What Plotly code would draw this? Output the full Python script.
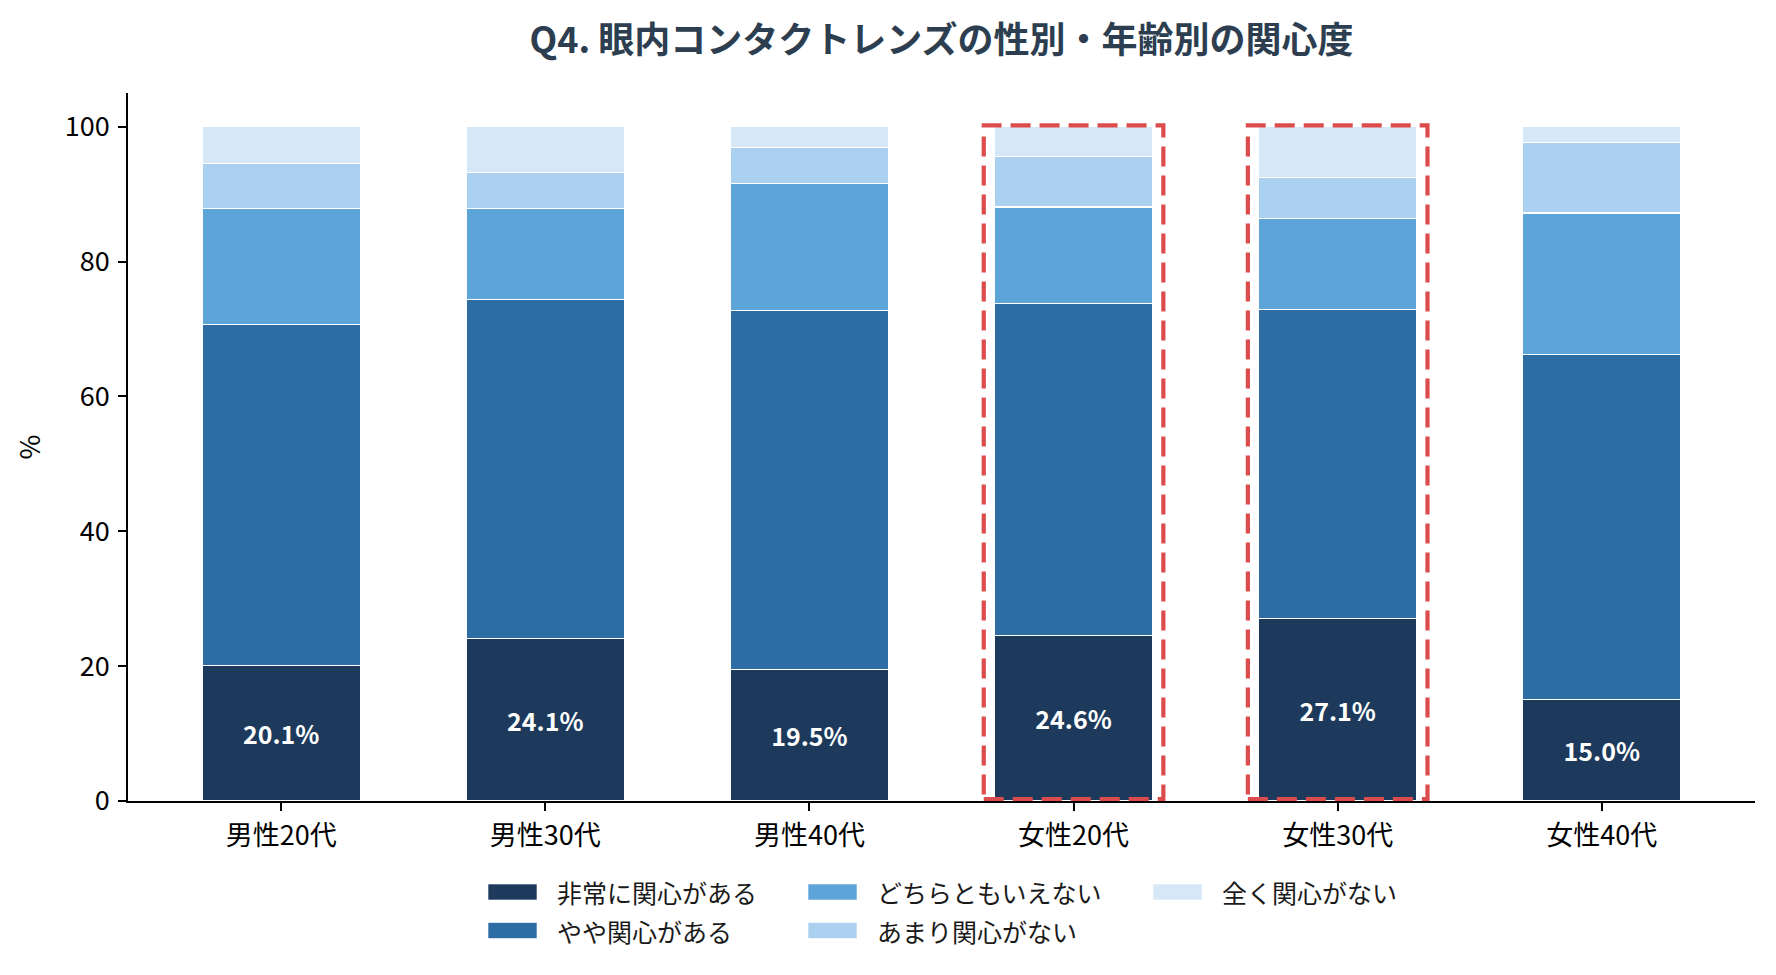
import plotly.graph_objects as go

categories = ["男性20代", "男性30代", "男性40代", "女性20代", "女性30代", "女性40代"]
series_names = ["非常に関心がある", "やや関心がある", "どちらともいえない", "あまり関心がない", "全く関心がない"]
very_interested = [20.1, 24.1, 19.5, 24.6, 27.1, 15.0]
somewhat_interested = [50.6, 50.3, 53.3, 49.2, 45.8, 51.2]
neutral = [17.2, 13.5, 18.8, 14.3, 13.5, 21.0]
not_very_interested = [6.6, 5.3, 5.3, 7.5, 6.1, 10.5]
not_at_all = [5.5, 6.8, 3.1, 4.4, 7.5, 2.3]
highlighted = ["女性20代", "女性30代"]
y_ticks = [0, 20, 40, 60, 80, 100]

colors = ["#1d3a5c", "#2e6da4", "#5da4d8", "#abd0f0", "#d6e8f7"]
FONT = "Noto Sans CJK JP"

W, H = 1776, 975
ML, MR, MT, MB = 120, 29, 85, 182
PW, PH = W - ML - MR, H - MT - MB


def px_x(px):
    return (px - ML) / PW


def px_y(py):
    return (H - MB - py) / PH


fig = go.Figure()
all_values = [very_interested, somewhat_interested, neutral, not_very_interested, not_at_all]
for i, (name, vals) in enumerate(zip(series_names, all_values)):
    kw = {}
    if i == 0:
        kw = dict(
            text=[f"{v:.1f}%" for v in vals],
            textposition="inside",
            insidetextanchor="middle",
            textangle=0,
            textfont=dict(family=FONT, size=25, color="white", weight="bold"),
        )
    fig.add_trace(go.Bar(
        x=categories, y=vals, name=name,
        marker=dict(color=colors[i], line=dict(color="white", width=1.2)),
        showlegend=False, hoverinfo="skip",
        **kw,
    ))

for cat in highlighted:
    idx = categories.index(cat)
    fig.add_shape(type="rect", xref="x", yref="y",
                  x0=idx - 0.34, x1=idx + 0.34, y0=0.3, y1=100.2,
                  line=dict(color="#dc4c4c", width=4.2, dash="20px,9px"),
                  fillcolor="rgba(0,0,0,0)", layer="above")

# legend drawn as swatches + labels (3 columns, column-major order)
col_x = [480, 800, 1145]
row_y = [884, 922.5]
sw_w, sw_h = 49, 16
for i, name in enumerate(series_names):
    c, r = divmod(i, 2)
    x0 = col_x[c]
    yc = row_y[r]
    fig.add_shape(type="rect", xref="paper", yref="paper",
                  x0=px_x(x0), x1=px_x(x0 + sw_w),
                  y0=px_y(yc + sw_h / 2), y1=px_y(yc - sw_h / 2),
                  fillcolor=colors[i], line=dict(color="rgba(255,255,255,0.6)", width=1))
    fig.add_annotation(xref="paper", yref="paper", x=px_x(x0 + 66.5), y=px_y(yc),
                       xanchor="left", yanchor="middle", text=name, showarrow=False,
                       font=dict(family=FONT, size=25, color="#1a1a1a"))

fig.update_layout(
    width=W, height=H,
    paper_bgcolor="white", plot_bgcolor="white",
    barmode="stack", bargap=0.4,
    margin=dict(l=ML, r=MR, t=MT, b=MB),
    font=dict(family=FONT, size=25, color="#000000"),
    showlegend=False,
    title=dict(text="Q4. 眼内コンタクトレンズの性別・年齢別の関心度",
               x=0.5, xref="paper", xanchor="center",
               y=1 - 32 / H, yref="container", yanchor="middle",
               font=dict(family=FONT, size=36, color="#2c3e50", weight="bold")),
    xaxis=dict(range=[-0.58, 5.58], showline=True, linecolor="black", linewidth=1.8,
               ticks="outside", ticklen=8, tickwidth=1.8, tickcolor="black",
               ticklabelstandoff=2,
               tickfont=dict(family=FONT, size=27, color="black"),
               showgrid=False, zeroline=False),
    yaxis=dict(range=[0, 105], tickvals=y_ticks, showline=True, linecolor="black",
               linewidth=1.8, ticks="outside", ticklen=8, tickwidth=1.8,
               tickcolor="black", ticklabelstandoff=3,
               tickfont=dict(family=FONT, size=27, color="black"),
               showgrid=False, zeroline=False,
               title=dict(text="%", standoff=16, font=dict(family=FONT, size=27, color="black"))),
)

fig.write_html("out.html")
